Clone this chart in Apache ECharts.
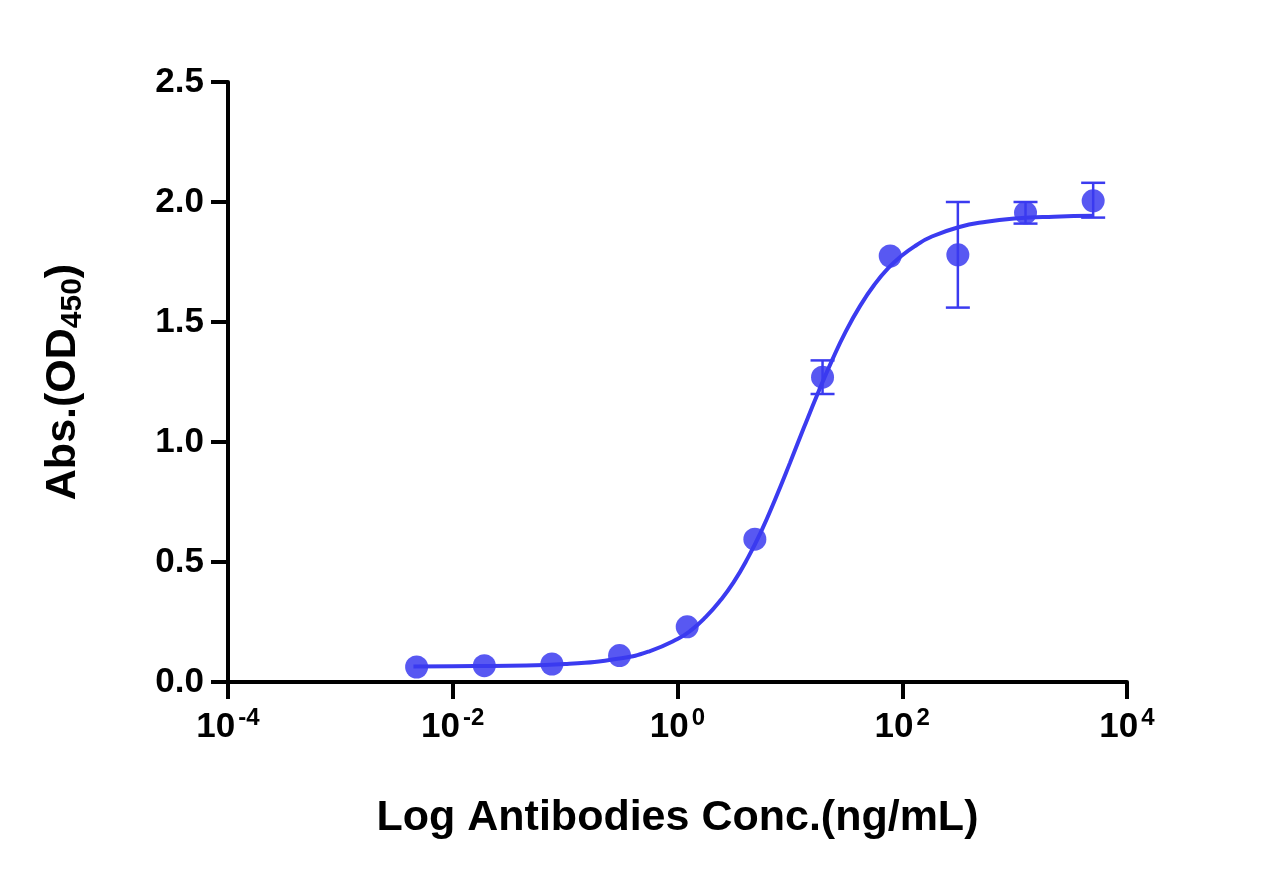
<!DOCTYPE html><html><head><meta charset="utf-8"><script src="https://cdn.jsdelivr.net/npm/echarts@6/dist/echarts.min.js"></script>
<style>body{margin:0}#c{width:1269px;height:886px}</style></head><body><div id="c"></div><script>
const conc=[0.00477,0.0191,0.0763,0.305,1.22,4.88,19.53,78.125,312.5,1250,5000];
const od=[0.0625,0.068,0.075,0.11,0.23,0.595,1.27,1.775,1.78,1.955,2.005];
const errLow=[0.0625,0.068,0.075,0.11,0.23,0.595,1.2,1.775,1.56,1.91,1.935];
const errHigh=[0.0625,0.068,0.075,0.11,0.23,0.595,1.34,1.775,2.0,2.0,2.08];
const fitLogX=[-2.35,-2,-1.5,-1,-0.5,-0.25,0,0.125,0.25,0.375,0.5,0.625,0.75,0.875,1,1.125,1.25,1.375,1.5,1.625,1.75,1.875,2,2.125,2.25,2.5,2.75,3,3.35,3.7];
const fitY=[0.065,0.066,0.068,0.075,0.099,0.128,0.179,0.217,0.27,0.336,0.416,0.516,0.633,0.768,0.912,1.060,1.204,1.340,1.463,1.567,1.654,1.724,1.778,1.820,1.853,1.895,1.918,1.931,1.939,1.943];
const col='#3b3bf0';
const ch=echarts.init(document.getElementById('c'));
const ax={lineStyle:{color:'#000',width:4}};
ch.setOption({animation:false,
grid:{left:228,right:142,top:82,bottom:204,containLabel:false},
xAxis:{type:'log',logBase:10,min:1e-4,max:1e4,interval:2,axisLine:{onZero:false,...ax},
 axisTick:{length:17,lineStyle:{color:'#000',width:4}},splitLine:{show:false},minorTick:{show:false},
 axisLabel:{margin:24,color:'#000',fontFamily:'Arial',fontWeight:'bold',fontSize:35,
  formatter:v=>{const e=Math.round(Math.log10(v));return '10{s|'+e+'}';},
  rich:{s:{fontSize:24,fontWeight:'bold',fontFamily:'Arial',color:'#000',verticalAlign:'top',padding:[0,0,18,3]}}},
 name:'Log Antibodies Conc.(ng/mL)',nameLocation:'middle',nameGap:115,
 nameTextStyle:{color:'#000',fontFamily:'Arial',fontWeight:'bold',fontSize:43}},
yAxis:{type:'value',min:0,max:2.5,interval:0.5,axisLine:{show:true,...ax},
 axisTick:{show:true,length:17,lineStyle:{color:'#000',width:4}},splitLine:{show:false},
 axisLabel:{margin:24,color:'#000',fontFamily:'Arial',fontWeight:'bold',fontSize:35,formatter:v=>v.toFixed(1)},
 name:'Abs.(OD{sub|450})',nameLocation:'middle',nameGap:140,
 nameTextStyle:{color:'#000',fontFamily:'Arial',fontWeight:'bold',fontSize:43,
  rich:{sub:{fontSize:30,fontWeight:'bold',fontFamily:'Arial',color:'#000',verticalAlign:'bottom',padding:[20,0,0,0]}}}},
series:[
{type:'line',data:fitLogX.map((l,i)=>[Math.pow(10,l),fitY[i]]),smooth:true,symbol:'none',lineStyle:{color:col,width:4},z:2},
{type:'custom',z:3,data:conc.map((c,i)=>[c,errLow[i],errHigh[i]]),
 renderItem:(p,api)=>{const a=api.coord([api.value(0),api.value(1)]),b=api.coord([api.value(0),api.value(2)]);
  if(Math.abs(a[1]-b[1])<2)return null;const s={stroke:col,lineWidth:2.5};
  return {type:'group',children:[{type:'line',shape:{x1:a[0],y1:a[1],x2:b[0],y2:b[1]},style:s},
  {type:'line',shape:{x1:a[0]-12,y1:a[1],x2:a[0]+12,y2:a[1]},style:s},
  {type:'line',shape:{x1:b[0]-12,y1:b[1],x2:b[0]+12,y2:b[1]},style:s}]};}},
{type:'scatter',data:conc.map((c,i)=>[c,od[i]]),symbolSize:23,itemStyle:{color:col,opacity:0.85},z:4}
]});
</script></body></html>
